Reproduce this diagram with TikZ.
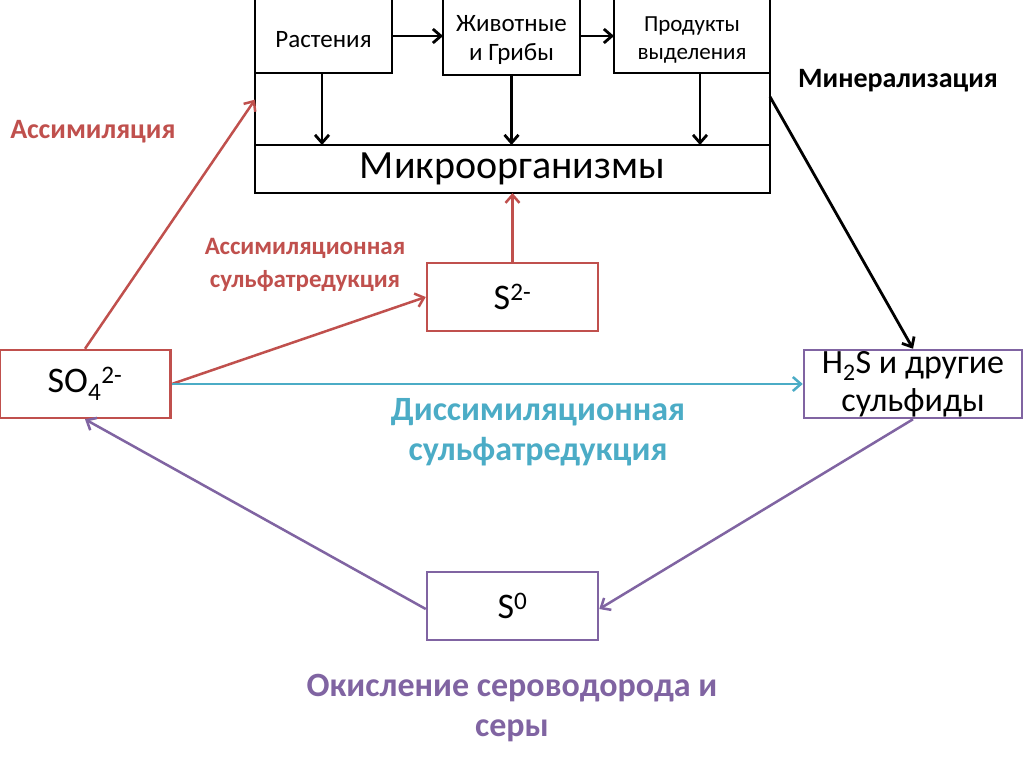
\documentclass[tikz,border=0pt]{standalone}
\usepackage{fontspec}
\setmainfont{Carlito}
\usetikzlibrary{arrows.meta, positioning, calc}
\definecolor{sulfRed}{RGB}{192,80,77}
\definecolor{sulfTeal}{RGB}{75,172,198}
\definecolor{sulfViolet}{RGB}{128,100,162}

\begin{document}
\begin{tikzpicture}[x=1pt, y=-1pt,
      organism/.style={draw=black, line width=2.8pt, inner sep=0pt, outer sep=0pt, align=center,
      minimum height=76pt, font=\fontsize{25}{29}\selectfont},
      species/.style={draw, line width=2.5pt, inner sep=0pt, align=center, minimum width=171pt,
      minimum height=68pt, font=\fontsize{36}{38}\selectfont},
      flow/.style={line width=2.8pt, -{Straight Barb[length=8pt, width=14pt]}},
      caption/.style={font=\bfseries\fontsize{28}{30}\selectfont, align=center}
    ]
    \path[use as bounding box, fill=white] (0,0) rectangle (1024,767);

    \node[organism, minimum width=137pt] (plants) at (323.5,35) {\rule{0pt}{25pt}Растения};
    \node[organism, minimum width=137pt, minimum height=78pt] (animals) at (511.5,36) {\rule{0pt}{25pt}Животные\\и Грибы};
    \node[organism, minimum width=156pt, font=\fontsize{23}{28}\selectfont] (products) at (692,35) {\rule{0pt}{25pt}Продукты\\выделения};
    \node[organism, minimum width=515pt, minimum height=48pt, font=\fontsize{40}{42}\selectfont] (micro) at (512.5,169) {Микроорганизмы};
    \draw[line width=2.8pt] (plants.south west) -- (micro.north west);
    \draw[line width=2.8pt] (products.south east) -- (micro.north east);

    \draw[flow] (plants.east |- 0,36) -- (animals.west |- 0,36);
    \draw[flow] (animals.east |- 0,36) -- (products.west |- 0,36);
    \draw[flow] ([xshift=-1.5pt]plants.south) -- ([xshift=-1.5pt]plants.south |- micro.north);
    \draw[flow] (animals.south) -- (animals.south |- micro.north);
    \draw[flow] ([xshift=8pt]products.south) -- ([xshift=8pt]products.south |- micro.north);

    \node[species, draw=sulfRed] (sulfate) at (85,384) {SO\textsubscript{4}\textsuperscript{2-}};
    \node[species, draw=sulfRed] (sulfide) at (512.5,297) {S\textsuperscript{2-}};
    \node[species, draw=sulfViolet, minimum width=218pt, font=\fontsize{34}{38}\selectfont] (hydrogen) at (913,384) {H\textsubscript{2}S и другие\\сульфиды};
    \node[species, draw=sulfViolet] (sulfur) at (512.5,606) {S\textsuperscript{0}};

    \coordinate (assimEnd) at ($(plants.south west)!0.37!(micro.north west)$);
    \coordinate (mineralStart) at ($(products.south east)!0.33!(micro.north east)$);

    \draw[flow, draw=sulfRed, line width=2.5pt] (sulfate.north) -- (assimEnd);
    \draw[flow, draw=sulfRed, line width=2.5pt] (sulfate.east) -- (sulfide.west);
    \draw[flow, draw=sulfRed, line width=2.5pt] (sulfide.north) -- (micro.south);
    \draw[flow, draw=sulfTeal, line width=2.5pt] (sulfate.east) -- (hydrogen.west);
    \draw[flow] (mineralStart) -- (hydrogen.north);
    \draw[flow, draw=sulfViolet, line width=2.5pt] (hydrogen.south) -- ([yshift=-3pt]sulfur.east);
    \draw[flow, draw=sulfViolet, line width=2.5pt] ([yshift=-3pt]sulfur.west) -- (sulfate.south);

    \node[caption, text=sulfRed] (assimLabel) at (93,132) {Ассимиляция};
    \node[caption, text=sulfRed, font=\bfseries\fontsize{25}{33}\selectfont] (assimRedLabel) at (305,265) {Ассимиляционная\\сульфатредукция};
    \node[caption] (mineralLabel) at (898,81) {Минерализация};
    \node[caption, text=sulfTeal, font=\bfseries\fontsize{34}{40}\selectfont] (dissimLabel) at (538,432) {Диссимиляционная\\сульфатредукция};
    \node[caption, text=sulfViolet, font=\bfseries\fontsize{34}{40}\selectfont] (oxidLabel) at (512,708) {Окисление сероводорода и\\серы};
  \end{tikzpicture}
\end{document}
